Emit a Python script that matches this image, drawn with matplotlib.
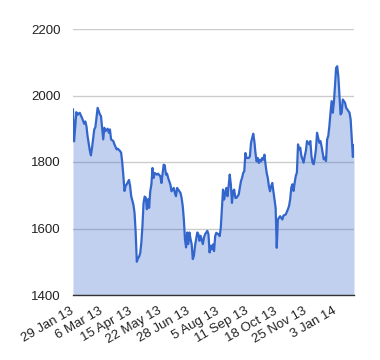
import matplotlib.pyplot as plt

# trading-day index (0 = 29 Jan 13) and closing value
day = [0, 1, 3, 4, 6, 7, 8, 10, 11, 12, 13, 15, 16, 17, 19, 20, 22, 24, 25,
       27, 28, 29, 31, 32, 33, 34, 36, 37, 39, 40, 42, 43, 44, 45, 46, 47,
       48, 50, 51, 52, 54, 55, 56, 57, 58, 59, 60, 61, 62, 63, 64, 65, 66,
       67, 68, 69, 70, 71, 72, 73, 75, 76, 78, 79, 81, 82, 83, 84, 85, 87,
       88, 90, 91, 92, 93, 94, 96, 97, 98, 99, 100, 101, 102, 103, 104, 105,
       106, 107, 108, 109, 111, 112, 113, 114, 116, 117, 118, 120, 121, 122,
       123, 124, 125, 126, 127, 128, 130, 131, 132, 133, 134, 135, 136, 137,
       138, 139, 140, 141, 142, 143, 144, 145, 146, 148, 149, 150, 151, 152,
       153, 154, 155, 157, 158, 159, 160, 161, 162, 163, 164, 165, 166, 167,
       168, 169, 170, 171, 172, 173, 174, 175, 176, 177, 178, 179, 180, 181,
       182, 183, 184, 185, 187, 188, 190, 192, 193, 194, 195, 196, 197, 198,
       199, 200, 201, 202, 203, 204, 205, 206, 207, 208, 209, 211, 212, 213,
       214, 215, 216, 217, 218, 219, 220, 221, 222, 223, 224, 225, 226, 227,
       228, 229, 230, 231, 232, 233, 234, 235, 236, 237, 238, 239, 240, 241,
       242, 243, 244, 245, 246, 247, 248, 249, 250, 251]
close = [1958, 1862, 1950, 1942, 1948, 1940, 1933, 1915, 1922, 1908, 1878,
         1835, 1820, 1843, 1898, 1905, 1963, 1943, 1938, 1868, 1903, 1893,
         1900, 1888, 1898, 1868, 1863, 1853, 1838, 1840, 1833, 1828, 1798,
         1758, 1713, 1728, 1733, 1746, 1728, 1697, 1671, 1646, 1586, 1500,
         1510, 1515, 1525, 1556, 1606, 1676, 1696, 1693, 1658, 1688, 1662,
         1712, 1732, 1782, 1752, 1767, 1762, 1765, 1757, 1737, 1792, 1790,
         1762, 1765, 1752, 1732, 1712, 1722, 1707, 1697, 1722, 1717, 1707,
         1692, 1668, 1628, 1568, 1543, 1588, 1553, 1588, 1568, 1553, 1508,
         1518, 1548, 1588, 1583, 1563, 1578, 1553, 1573, 1583, 1593, 1583,
         1528, 1548, 1537, 1552, 1532, 1577, 1587, 1582, 1577, 1602, 1657,
         1717, 1687, 1707, 1722, 1697, 1727, 1762, 1732, 1677, 1712, 1717,
         1692, 1692, 1702, 1722, 1742, 1752, 1767, 1772, 1827, 1812, 1812,
         1817, 1857, 1872, 1885, 1862, 1827, 1802, 1812, 1797, 1807, 1802,
         1812, 1807, 1822, 1792, 1767, 1752, 1727, 1712, 1727, 1737, 1712,
         1687, 1662, 1542, 1627, 1632, 1637, 1627, 1639, 1642, 1658, 1668,
         1688, 1723, 1733, 1713, 1738, 1758, 1768, 1853, 1838, 1843, 1818,
         1808, 1798, 1818, 1833, 1863, 1853, 1863, 1818, 1798, 1793, 1813,
         1838, 1888, 1873, 1858, 1863, 1848, 1828, 1808, 1813, 1803, 1868,
         1878, 1908, 1948, 1983, 1948, 1978, 2028, 2083, 2088, 2058, 1998,
         1943, 1948, 1988, 1983, 1978, 1963, 1958, 1953, 1948, 1928, 1870,
         1815, 1850]

tick_days = [0, 26, 52, 78, 104, 130, 156, 182, 208, 234]
tick_labels = ['29 Jan 13', '6 Mar 13', '15 Apr 13', '22 May 13', '28 Jun 13',
               '5 Aug 13', '11 Sep 13', '18 Oct 13', '25 Nov 13', '3 Jan 14']
y_ticks = [1400, 1600, 1800, 2000, 2200]

plt.rcParams['font.family'] = ['Liberation Sans', 'DejaVu Sans']

fig = plt.figure(figsize=(3.8, 3.6), dpi=100)
ax = fig.add_axes([73 / 380, 1 - 295 / 360, 281 / 380, 266 / 360])

line_color = '#3366cc'
ax.fill_between(day, close, 1400, color=line_color, alpha=0.3, linewidth=0, zorder=2)
ax.plot(day, close, color=line_color, linewidth=1.6, zorder=3)

ax.set_xlim(0, 251)
ax.set_ylim(1400, 2200)
ax.set_yticks(y_ticks)
ax.set_yticklabels([str(v) for v in y_ticks])
ax.set_xticks(tick_days)
ax.set_xticklabels(tick_labels, rotation=30, ha='right', va='center',
                   rotation_mode='anchor')

ax.grid(axis='y', color='#cccccc', linewidth=1, zorder=1)
ax.set_axisbelow(True)
ax.tick_params(axis='both', length=0, labelsize=9.5, labelcolor='#222222')
ax.tick_params(axis='y', pad=9)
ax.tick_params(axis='x', pad=11)

for side in ['top', 'right', 'left']:
    ax.spines[side].set_visible(False)
ax.spines['bottom'].set_color('#333333')
ax.spines['bottom'].set_linewidth(1)
ax.spines['bottom'].set_zorder(4)

fig.savefig('out.png', dpi=100)
